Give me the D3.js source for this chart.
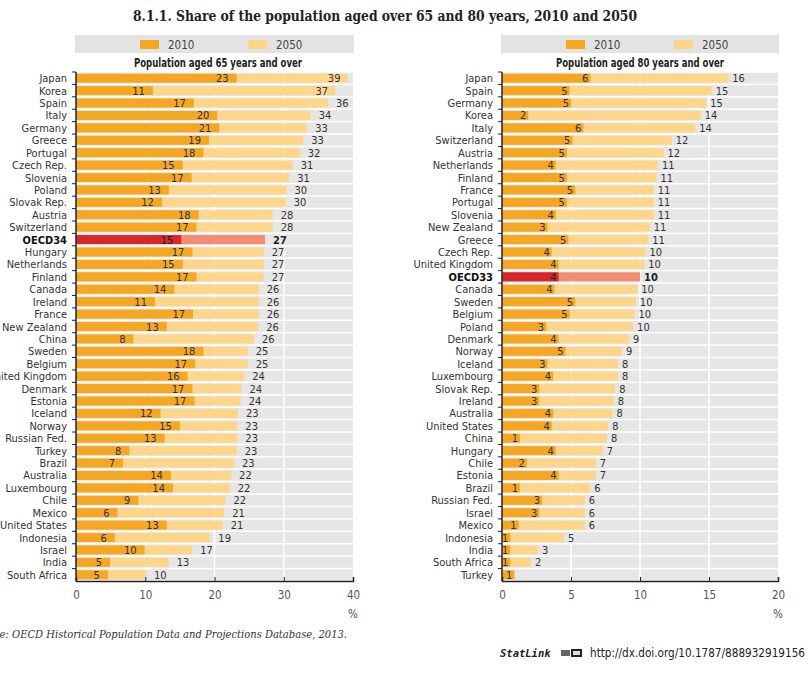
<!DOCTYPE html>
<html><head><meta charset="utf-8">
<script src="https://cdn.jsdelivr.net/npm/d3@7"></script>
<style>
body{margin:0;background:#fff;}
svg{display:block;}
</style></head>
<body>
<script>
// ---- Data ----
const years = ["2010", "2050"];

const cats65 = ["Japan","Korea","Spain","Italy","Germany","Greece","Portugal","Czech Rep.","Slovenia","Poland","Slovak Rep.","Austria","Switzerland","OECD34","Hungary","Netherlands","Finland","Canada","Ireland","France","New Zealand","China","Sweden","Belgium","United Kingdom","Denmark","Estonia","Iceland","Norway","Russian Fed.","Turkey","Brazil","Australia","Luxembourg","Chile","Mexico","United States","Indonesia","Israel","India","South Africa"];
const v65_2010 = [23.2,11.1,17.0,20.4,20.7,19.2,18.4,15.4,16.7,13.4,12.4,17.7,17.4,15.2,16.8,15.4,17.4,14.2,11.4,16.9,13.1,8.3,18.4,17.2,16.1,16.8,17.1,12.2,15.0,12.8,7.7,6.8,13.7,14.0,9.0,6.0,13.1,5.6,9.9,4.9,4.6];
const v65_2050 = [39.2,37.4,36.4,33.9,33.4,32.8,32.3,31.3,30.8,30.4,30.3,28.4,28.4,27.3,27.1,27.1,27.1,26.4,26.4,26.4,26.3,25.7,24.8,24.8,24.3,23.9,23.8,23.4,23.3,23.3,23.2,22.8,22.4,22.2,21.6,21.4,21.2,19.4,16.8,13.4,10.1];

const cats80 = ["Japan","Spain","Germany","Korea","Italy","Switzerland","Austria","Netherlands","Finland","France","Portugal","Slovenia","New Zealand","Greece","Czech Rep.","United Kingdom","OECD33","Canada","Sweden","Belgium","Poland","Denmark","Norway","Iceland","Luxembourg","Slovak Rep.","Ireland","Australia","United States","China","Hungary","Chile","Estonia","Brazil","Russian Fed.","Israel","Mexico","Indonesia","India","South Africa","Turkey"];
const v80_2010 = [6.4,4.9,5.0,1.9,5.9,5.1,4.7,3.9,4.7,5.3,4.7,3.9,3.3,4.8,3.6,4.1,4.1,3.8,5.3,4.9,3.2,4.1,4.6,3.3,3.7,2.7,2.7,3.7,3.6,1.3,3.9,1.8,4.1,1.3,2.9,2.7,1.2,0.6,0.6,0.6,0.9];
const v80_2050 = [16.4,15.2,14.8,14.4,14.0,12.3,11.7,11.3,11.2,11.0,11.0,11.0,10.7,10.6,10.4,10.3,10.0,9.8,9.7,9.6,9.5,9.2,8.7,8.4,8.4,8.2,8.1,8.0,7.7,7.6,7.3,6.8,6.8,6.4,6.0,6.0,6.0,4.5,2.6,2.1,null];

const ticks65 = [0,10,20,30,40];
const ticks80 = [0,5,10,15,20];

const titleText = "8.1.1.  Share of the population aged over 65 and 80 years, 2010 and 2050";
const sub65 = "Population aged 65 years and over";
const sub80 = "Population aged 80 years and over";
const sourceText = "Source: OECD Historical Population Data and Projections Database, 2013.";
const statUrl = "http://dx.doi.org/10.1787/888932919156";

// ---- Styles ----
const C2010 = "#f5a623", C2050 = "#fdd68a";
const H2010 = "#d8262e", H2050 = "#f28c72";
const BAND = "#e6e6e6";
const COND = "'DejaVu Sans Condensed','DejaVu Sans',sans-serif";

const W = 808, H = 673;
const svg = d3.select("body").append("svg").attr("width", W).attr("height", H);

function cond(sel){ return sel.attr("font-family", COND).attr("font-stretch","condensed"); }
// fit a text into [xa, xb] by its length
function fitText(sel, xa, xb){
  sel.attr("x", xa).attr("textLength", xb - xa).attr("lengthAdjust","spacingAndGlyphs");
  return sel;
}

fitText(svg.append("text").attr("y", 21)
  .attr("font-family","'DejaVu Serif','Liberation Serif',serif").attr("font-stretch","condensed").attr("font-weight","bold")
  .attr("font-size", 14).attr("fill","#222").text(titleText), 133, 637);

function panel(cfg){
  const {cats, a, b, ticks, domainMax, x0, x1, subtitle, gap2050, off2010, subX} = cfg;
  const top = 72, bottom = 581;
  const x = d3.scaleLinear().domain([0, domainMax]).range([x0, x1]);
  const y = d3.scaleBand().domain(cats).range([top, bottom]).padding(0);
  const step = y.step();
  const g = svg.append("g");

  // legend
  g.append("rect").attr("x", x0-1).attr("y", 35).attr("width", x1-x0+2).attr("height", 18).attr("fill","#e3e3e3");
  const leg = [{t:years[0], c:C2010, dx:64},{t:years[1], c:C2050, dx:172}];
  leg.forEach(l=>{
    g.append("rect").attr("x", x0+l.dx).attr("y", 40).attr("width", 19).attr("height", 9).attr("fill", l.c);
    cond(g.append("text")).attr("x", x0+l.dx+28).attr("y", 48.5).attr("font-size", 11.5)
      .attr("fill","#444").text(l.t);
  });
  fitText(cond(g.append("text")).attr("y", 67)
    .attr("font-weight","bold").attr("font-size", 11.5).attr("fill","#222").text(subtitle), subX-84, subX+84);

  // row bands
  g.selectAll(".band").data(cats).join("rect")
    .attr("x", x0).attr("y", d=>y(d)+0.7).attr("width", x1-x0).attr("height", step-1.5).attr("fill", BAND);
  // white gridlines
  g.selectAll(".grid").data(ticks.slice(1, -1)).join("line")
    .attr("x1", d=>x(d)).attr("x2", d=>x(d)).attr("y1", top).attr("y2", bottom)
    .attr("stroke","#fff").attr("stroke-width",1.5);

  const rows = cats.map((c,i)=>({c, a:a[i], b:b[i], hi:c.startsWith("OECD")}));
  const bh = 9;
  g.selectAll(".b2050").data(rows.filter(r=>r.b!=null)).join("rect")
    .attr("x", x0).attr("y", r=>y(r.c)+(step-bh)/2).attr("width", r=>x(r.b)-x0).attr("height", bh)
    .attr("fill", r=>r.hi?H2050:C2050);
  g.selectAll(".b2010").data(rows).join("rect")
    .attr("x", x0).attr("y", r=>y(r.c)+(step-bh)/2).attr("width", r=>x(r.a)-x0).attr("height", bh)
    .attr("fill", r=>r.hi?H2010:C2010);

  const fs = 11;
  // value labels
  cond(g.selectAll(".l2010").data(rows).join("text"))
    .attr("x", r=>x(r.a)-off2010).attr("y", r=>y(r.c)+step/2+4).attr("text-anchor","end")
    .attr("font-size", fs).attr("fill", r=>r.hi?"#222":"#333")
    .text(r=>Math.round(r.a));
  cond(g.selectAll(".l2050").data(rows.filter(r=>r.b!=null)).join("text"))
    .each(function(r){
      const xe = x(r.b);
      const inside = xe + gap2050 + 12 > x1;
      d3.select(this).attr("x", inside ? xe-7 : xe+gap2050).attr("text-anchor", inside?"end":"start");
    })
    .attr("y", r=>y(r.c)+step/2+4)
    .attr("font-size", fs).attr("font-weight", r=>r.hi?"bold":"normal")
    .attr("fill", r=>r.hi?"#222":"#333")
    .text(r=>Math.round(r.b));

  // category labels
  cond(g.selectAll(".cat").data(rows).join("text"))
    .attr("x", x0-9).attr("y", r=>y(r.c)+step/2+4).attr("text-anchor","end")
    .attr("font-size", fs).attr("font-weight", r=>r.hi?"bold":"normal")
    .attr("fill", r=>r.hi?"#111":"#333").text(r=>r.c);

  // y axis line + ticks at row boundaries
  g.append("line").attr("x1", x0).attr("x2", x0).attr("y1", top).attr("y2", bottom).attr("stroke","#222").attr("stroke-width",1.5);
  const bounds = cats.map(c=>y(c));
  g.selectAll(".yt").data(bounds).join("line")
    .attr("x1", x0-4).attr("x2", x0).attr("y1", d=>d).attr("y2", d=>d).attr("stroke","#222").attr("stroke-width",1);

  // x axis
  const ax = g.append("g").attr("transform", `translate(0,${bottom})`)
    .call(d3.axisBottom(x).tickValues(ticks).tickSize(-4).tickPadding(10).tickFormat(d3.format("d")));
  ax.select(".domain").attr("stroke","#222").attr("stroke-width",1.5);
  ax.selectAll(".tick line").attr("stroke","#222");
  cond(ax.selectAll("text")).attr("font-size", 11.5).attr("fill","#555");
  cond(g.append("text")).attr("x", x1).attr("y", 618).attr("text-anchor","middle")
    .attr("font-size", 11.5).attr("fill","#555").text("%");
}

panel({cats:cats65, a:v65_2010, b:v65_2050, ticks:ticks65, domainMax:40, x0:76, x1:353, subtitle:sub65, gap2050:8, off2010:8, subX:218});
panel({cats:cats80, a:v80_2010, b:v80_2050, ticks:ticks80, domainMax:20, x0:502, x1:778, subtitle:sub80, gap2050:4, off2010:2, subX:640});

// source (its start is cut off at the left edge, as in the reference)
const src = svg.append("text").attr("y", 638).attr("font-family","'DejaVu Serif','Liberation Serif',serif")
  .attr("font-style","italic").attr("font-stretch","condensed").attr("font-size", 11).attr("fill","#333").text(sourceText);
fitText(src, -30, 347);

// StatLink
svg.append("text").attr("x", 500).attr("y", 657).attr("font-family","'DejaVu Sans Mono','Liberation Mono',monospace")
  .attr("font-style","italic").attr("font-weight","bold").attr("font-size", 10.5).attr("fill","#222").text("StatLink");
const ic = svg.append("g").attr("transform","translate(561,649)");
ic.append("rect").attr("x",0).attr("y",1).attr("width",9).attr("height",6).attr("fill","#666");
ic.append("rect").attr("x",10).attr("y",0).attr("width",11).attr("height",8).attr("fill","#222");
ic.append("rect").attr("x",12).attr("y",2).attr("width",7).attr("height",4).attr("fill","#ddd");
fitText(cond(svg.append("text")).attr("y", 657).attr("font-size", 12).attr("fill","#222").text(statUrl), 590, 805);
</script>
</body></html>
